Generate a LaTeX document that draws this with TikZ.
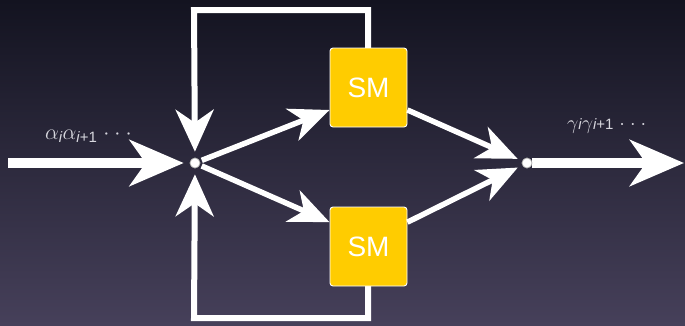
\RequirePackage{fix-cm}
\documentclass[tikz,border=0pt]{standalone}
\usepackage{fontspec}
\setmainfont{Liberation Sans}
\usetikzlibrary{arrows.meta}
\definecolor{bgtop}{RGB}{19,19,32}
\definecolor{bgbot}{RGB}{70,64,90}
\definecolor{smyellow}{RGB}{255,204,0}
\definecolor{labgray}{RGB}{215,215,222}
\newcommand{\mysub}[1]{\mbox{\fontsize{15}{15}\selectfont #1}}
\newcommand{\mydots}{{\cdot}\hspace{5pt}{\cdot}\hspace{5pt}{\cdot}}
\tikzset{
  smbox/.style={draw=white, line width=0.9pt, fill=smyellow, rounded corners=3pt,
    minimum width=77pt, minimum height=79pt, text=white, font=\fontsize{28}{30}\selectfont},
  junc/.style={circle, fill=white, draw=gray!70, line width=0.6pt, minimum size=10pt, inner sep=0pt},
  bigarrow/.style={white, line width=10pt, -{Stealth[length=54pt, width=46pt, inset=16pt]}},
  midarrow/.style={white, line width=5.5pt, -{Stealth[length=40pt, width=34pt, inset=12pt]}},
  fbarrow/.style={white, line width=6pt, line join=miter, -{Stealth[length=42pt, width=38pt, inset=13pt]}},
  lab/.style={text=labgray, inner sep=0pt, font=\fontsize{22}{24}\selectfont}
}
\begin{document}
\begin{tikzpicture}[x=1pt,y=-1pt]
\shade[top color=bgtop,bottom color=bgbot] (0,0) rectangle (685,325);
\useasboundingbox (0,0) rectangle (685,325);
\node[junc] (jl) at (195,163) {};
\node[junc] (jr) at (527,163) {};
\coordinate (in) at (8,163);
\coordinate (out) at (684,163);
\coordinate (t1) at (368,10);
\coordinate (t2) at (194,10);
\coordinate (b1) at (368,318);
\coordinate (b2) at (194,318);
% feedback loops (drawn under boxes)
\draw[fbarrow, shorten >=6pt] (368,60) -- (t1) -- (t2) -- (jl);
\draw[fbarrow, shorten >=6pt] (368,270) -- (b1) -- (b2) -- (jl);
\node[smbox] (sm1) at (368.5,87.5) {SM};
\node[smbox] (sm2) at (368.5,246.5) {SM};
% input / output
\draw[bigarrow, shorten >=6pt] (in) -- (jl);
\draw[white, line width=10pt] (jr) -- (600,163);
\draw[bigarrow] (jr) -- (out);
% diagonals
\draw[midarrow, shorten <=2pt] (jl) -- (sm1.210);
\draw[midarrow, shorten <=2pt] (jl) -- (sm2.148);
\draw[midarrow, shorten >=5pt] (sm1.330) -- (jr);
\draw[midarrow, shorten >=5pt] (sm2.32) -- (jr);
\node[junc] at (jl) {};
\node[junc] at (jr) {};
% labels
\node[lab, anchor=base west] (la) at (45,139) {$\alpha_{\mysub{\itshape i}}\alpha_{\mysub{{\itshape i}+1}}\hspace{6pt}\mydots$};
\node[lab, anchor=base west, font=\fontsize{20}{22}\selectfont] (lg) at (567,129) {$\gamma\mysub{\itshape i}\gamma\mysub{{\itshape i}+1}\hspace{6pt}\mydots$};
\end{tikzpicture}
\end{document}
